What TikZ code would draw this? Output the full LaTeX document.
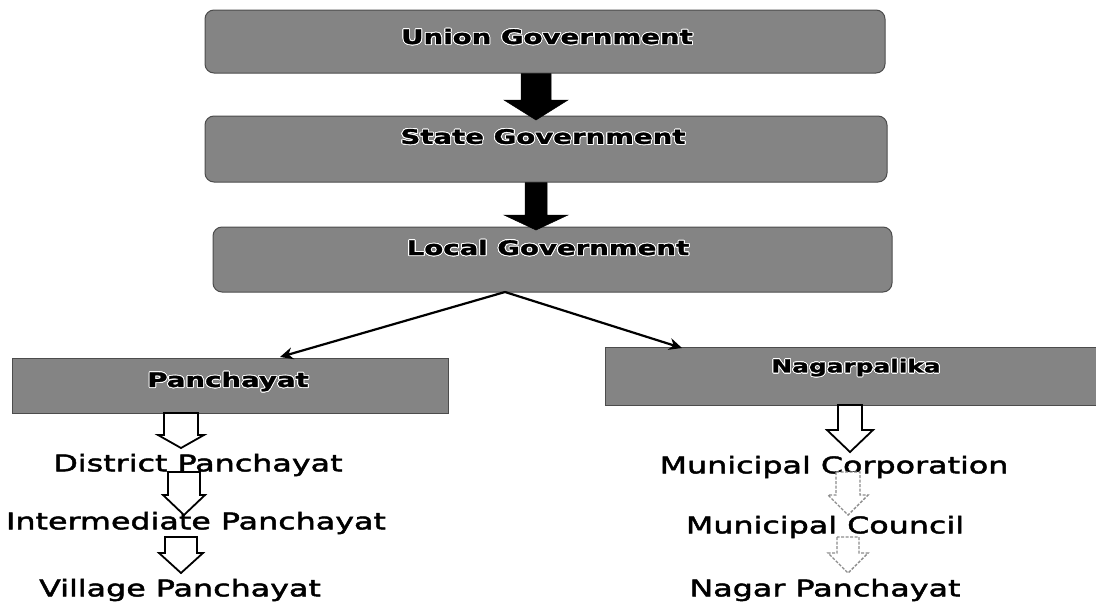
\documentclass[tikz,border=0pt]{standalone}
\usepackage{fontspec}
\usepackage{contour}
\contourlength{0.9pt}
\newfontfamily\lblfont[FakeStretch=1.38,FakeBold=2]{DejaVu Sans}
\newfontfamily\boxfont[FakeStretch=1.38,FakeBold=1.5]{DejaVu Sans Bold}
\usetikzlibrary{calc,arrows.meta}
\definecolor{boxgray}{RGB}{132,132,132}
\tikzset{
  govbox/.style={draw=black!70, line width=1pt, fill=boxgray, rounded corners=9pt, inner sep=0pt},
  flatbox/.style={draw=black!70, line width=1pt, fill=boxgray, inner sep=0pt},
  boxtext/.style={inner sep=0pt, font=\boxfont\fontsize{20}{24}\selectfont},
  lbl/.style={inner sep=0pt, font=\lblfont\fontsize{23}{27}\selectfont},
  link/.style={line width=2.2pt, -{Stealth[length=13pt,width=12pt]}},
  solidarrow/.style={fill=black, draw=black, line width=0.5pt},
  hollowarrow/.style={fill=white, draw=black, line width=1.8pt, line join=miter},
  fadedarrow/.style={fill=white, draw=black!45, line width=1.4pt, dash pattern=on 3pt off 1.5pt},
}
% block arrow from #2 down to #3: shaft half-width #4, head half-width #5, head length #6
\newcommand{\blockarrow}[6]{%
  \path[#1] let \p1=(#2), \p2=(#3) in
    (\x1-#4,\y1) -- (\x1-#4,\y2+#6) -- (\x1-#5,\y2+#6) -- (\x1,\y2)
    -- (\x1+#5,\y2+#6) -- (\x1+#4,\y2+#6) -- (\x1+#4,\y1) -- cycle;}
\begin{document}
\begin{tikzpicture}[x=1pt,y=-1pt]
\useasboundingbox (0,0) rectangle (1096,603);
% boxes
\node[govbox, minimum width=680pt, minimum height=63pt] (union) at (545,41.5) {};
\node[govbox, minimum width=682pt, minimum height=66pt] (state) at (546,149) {};
\node[govbox, minimum width=679pt, minimum height=65pt] (local) at (552.5,259.5) {};
\node[flatbox, minimum width=436pt, minimum height=55pt] (panch) at (230,385.5) {};
\node[flatbox, minimum width=491pt, minimum height=58pt] (nagar) at (850.5,376) {};
% box texts
\node[boxtext] (uniont) at (547,37) {\contour{white}{Union Government}};
\node[boxtext] (statet) at (543,137) {\contour{white}{State Government}};
\node[boxtext] (localt) at (548,248) {\contour{white}{Local Government}};
\node[boxtext] (pancht) at (228,382) {\contour{white}{Panchayat}};
\node[boxtext, font=\boxfont\fontsize{18}{22}\selectfont] (nagart) at (856,368) {\contour{white}{Nagarpalika}};
% labels
\node[lbl] (dp) at (198,465) {District Panchayat};
\node[lbl] (ip) at (196,523) {Intermediate Panchayat};
\node[lbl] (vp) at (180,590) {Village Panchayat};
\node[lbl] (mc) at (834,467) {Municipal Corporation};
\node[lbl] (mco) at (825,527) {Municipal Council};
\node[lbl] (np) at (825,590) {Nagar Panchayat};
% solid arrows
\coordinate (s1) at (union.south -| 536,0);
\coordinate (e1) at (536,120);
\coordinate (s2) at (state.south -| 536,0);
\coordinate (e2) at (534,230);
\blockarrow{solidarrow}{s1}{e1}{15pt}{32pt}{20pt}
\blockarrow{solidarrow}{s2}{e2}{11pt}{32pt}{15pt}
% links
\coordinate (apex) at (505,292);
\coordinate (pin) at (280,357);
\coordinate (nin) at (682,348);
\draw[link] (apex) -- (pin);
\draw[link] (apex) -- (nin);
% hollow arrows, left
\coordinate (a1s) at (181,413); \coordinate (a1e) at (181,448);
\coordinate (a2s) at (184,472); \coordinate (a2e) at (184,515);
\coordinate (a3s) at (181,537); \coordinate (a3e) at (181,573);
\blockarrow{hollowarrow}{a1s}{a1e}{17pt}{23pt}{13pt}
\blockarrow{hollowarrow}{a2s}{a2e}{16pt}{21pt}{20pt}
\blockarrow{hollowarrow}{a3s}{a3e}{16pt}{22pt}{20pt}
% hollow arrows, right
\coordinate (b1s) at (850,405); \coordinate (b1e) at (850,452);
\coordinate (b2s) at (848,472); \coordinate (b2e) at (848,515);
\coordinate (b3s) at (848,537); \coordinate (b3e) at (848,573);
\blockarrow{hollowarrow}{b1s}{b1e}{12pt}{23pt}{22pt}
\blockarrow{fadedarrow}{b2s}{b2e}{12pt}{20pt}{20pt}
\blockarrow{fadedarrow}{b3s}{b3e}{11pt}{20pt}{20pt}
\end{tikzpicture}
\end{document}
